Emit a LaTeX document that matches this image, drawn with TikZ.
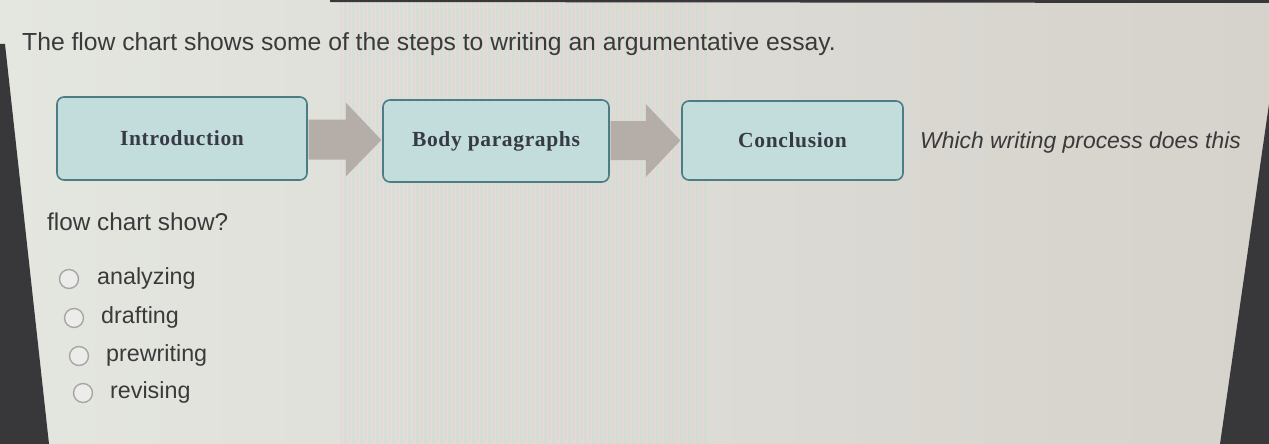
\documentclass[tikz,border=0pt]{standalone}
\usepackage{fontspec}
\setmainfont{Liberation Sans}
\newfontfamily\boxfont[LetterSpace=3]{Liberation Serif}
\usetikzlibrary{calc}
\definecolor{bgA}{HTML}{E4E6E0}
\definecolor{bgB}{HTML}{D6D2CC}
\definecolor{frame}{HTML}{38383A}
\definecolor{txt}{HTML}{3A3A3A}
\definecolor{boxfill}{HTML}{C3DCDC}
\definecolor{boxline}{HTML}{4C7C84}
\definecolor{boxtxt}{HTML}{363A44}
\definecolor{arrowgrey}{HTML}{B5ADA8}
\definecolor{radioline}{HTML}{A8A6A4}
\definecolor{radiofill}{HTML}{ECECEA}
\definecolor{stripeA}{HTML}{E8CCDC}
\definecolor{stripeB}{HTML}{C4DCC4}
\tikzset{
  stepbox/.style={draw=boxline, line width=1.6pt, fill=boxfill, rounded corners=7pt,
    text=boxtxt, font=\boxfont\bfseries\fontsize{21.5}{24}\selectfont, inner sep=0pt},
  question/.style={text=txt, font=\fontsize{24.3}{28}\selectfont, anchor=base west, inner sep=0pt},
  option/.style={text=txt, font=\fontsize{23.3}{27}\selectfont, anchor=west, inner sep=0pt},
  radio/.style={draw=radioline, fill=radiofill, line width=1.4pt, circle, minimum size=19pt, inner sep=0pt},
  blockarrow/.style={fill=arrowgrey}
}
\begin{document}
\begin{tikzpicture}[x=1pt,y=-1pt]
\useasboundingbox (0,0) rectangle (1269,444);
\shade[left color=bgA, right color=bgB] (0,0) rectangle (1269,444);
% moire stripes of the photographed screen
\foreach \i in {0,...,45} {
  \fill[stripeA, opacity=0.3] (340+8*\i,0) rectangle (342.5+8*\i,444);
  \fill[stripeB, opacity=0.3] (344+8*\i,0) rectangle (346.5+8*\i,444);
}
% screen edges
\fill[frame] (0,44) -- (5,44) -- (49,444) -- (0,444) -- cycle;
\fill[frame] (1269,104) -- (1269,444) -- (1220,444) -- cycle;
\fill[frame] (330,0) -- (1269,0) -- (1269,3) -- (330,2) -- cycle;

\node[question, font=\fontsize{24.7}{28}\selectfont] (title) at (22,51) {The flow chart shows some of the steps to writing an argumentative essay.};

\node[stepbox, minimum width=250pt, minimum height=83pt] (intro) at (182,138.5) {Introduction};
\node[stepbox, minimum width=226pt, minimum height=82pt] (body) at (496,141) {Body paragraphs};
\node[stepbox, minimum width=221pt, minimum height=79pt] (concl) at (792.5,140.5) {Conclusion};

% block arrows
\fill[blockarrow] ($(intro.east)+(0.8,-19)$) -- ($(intro.east)+(38,-19)$) -- ($(intro.east)+(38,-36)$)
  -- ($(body.west)+(-0.8,-1)$) -- ($(intro.east)+(38,38)$) -- ($(intro.east)+(38,21)$)
  -- ($(intro.east)+(0.8,21)$) -- cycle;
\fill[blockarrow] ($(body.east)+(0.8,-20)$) -- ($(body.east)+(36,-20)$) -- ($(body.east)+(36,-37)$)
  -- ($(concl.west)+(-0.8,0)$) -- ($(body.east)+(36,36)$) -- ($(body.east)+(36,19)$)
  -- ($(body.east)+(0.8,19)$) -- cycle;

\node[question, font=\itshape\fontsize{22.9}{27}\selectfont] (q1) at (920,148) {Which writing process does this};
\node[question] (q2) at (47,230) {flow chart show?};

\node[radio] (r1) at (69,279) {};
\node[radio] (r2) at (74,318) {};
\node[radio] (r3) at (79,356) {};
\node[radio] (r4) at (83,393) {};
\node[option] (o1) at (97,278) {analyzing};
\node[option] (o2) at (101,317) {drafting};
\node[option] (o3) at (106,355) {prewriting};
\node[option] (o4) at (110,392) {revising};
\end{tikzpicture}
\end{document}
